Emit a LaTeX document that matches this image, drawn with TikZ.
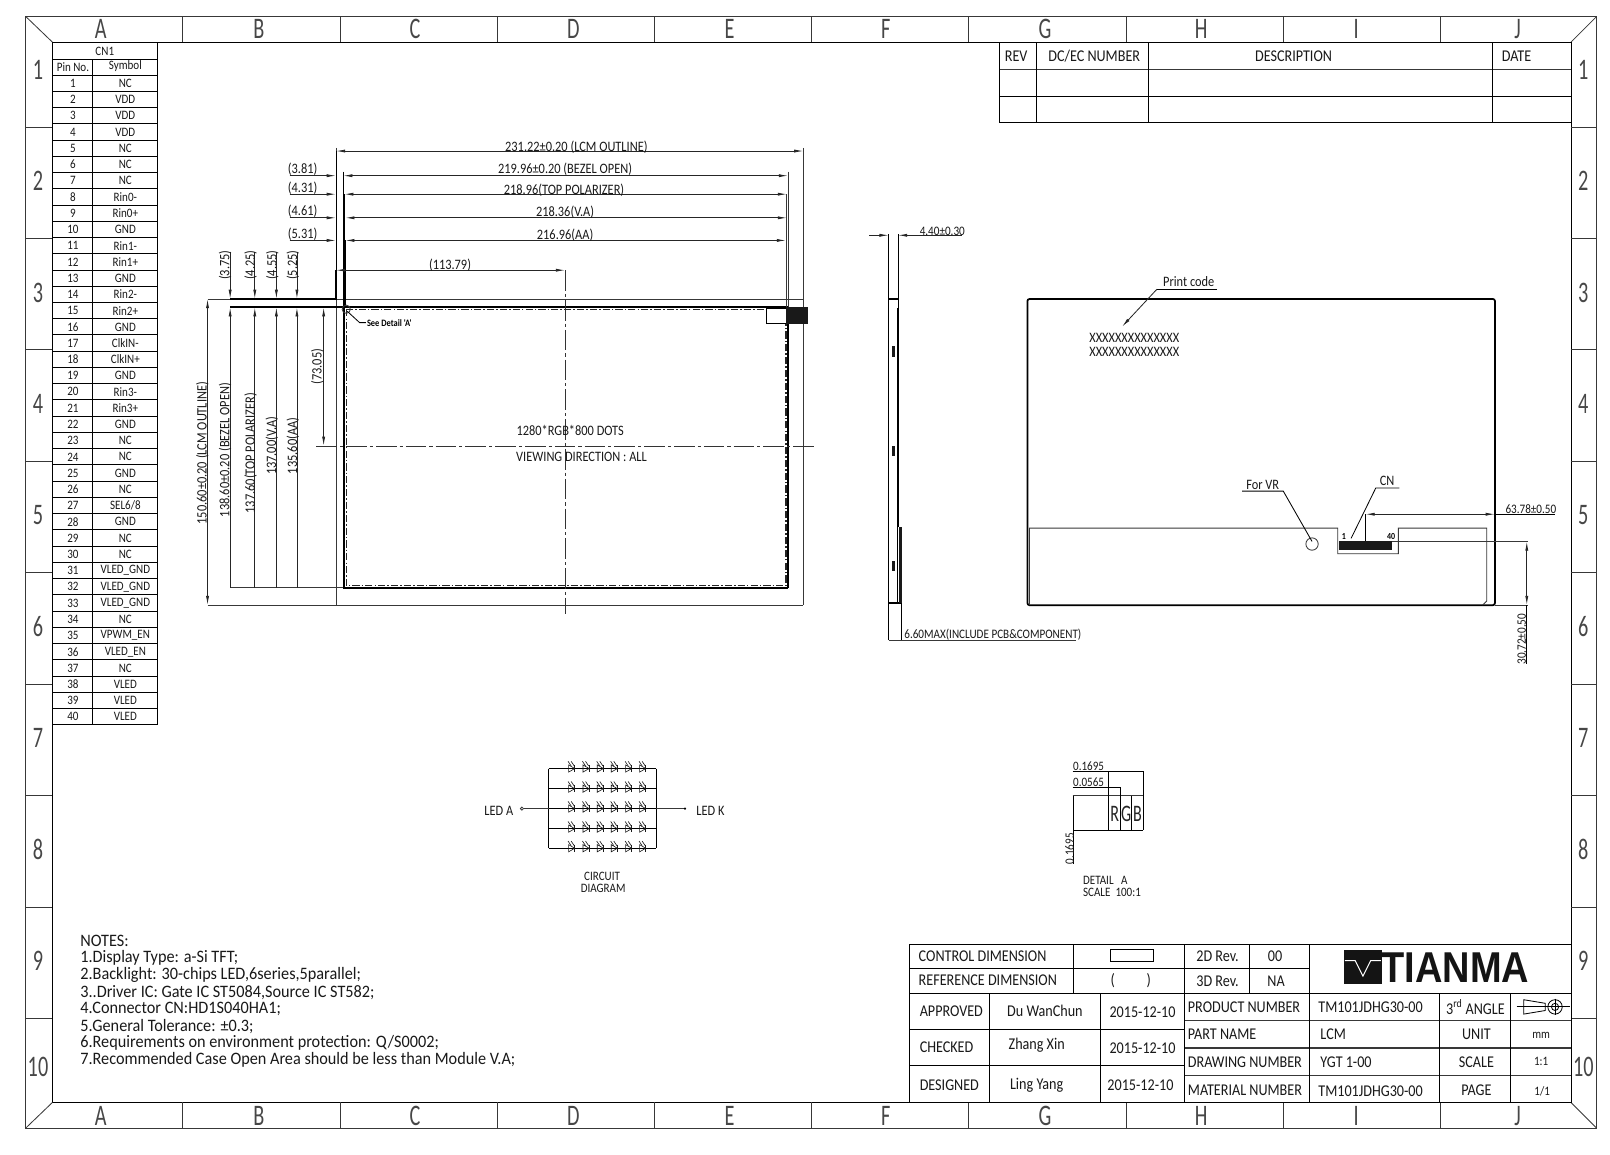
\documentclass[tikz,border=0pt]{standalone}
\usepackage{fontspec}
\newfontfamily\cadfont[FakeStretch=0.86]{Carlito}
\newfontfamily\cadwide[FakeStretch=0.93]{Carlito}
\newfontfamily\cadtall[FakeStretch=0.68]{Carlito}
\newfontfamily\logofont[FakeStretch=0.88]{Liberation Sans}
\usetikzlibrary{arrows.meta,calc}
\tikzset{
  thinline/.style={line width=.8pt,draw=black!78},
  darkline/.style={line width=.8pt,draw=black},
  thickline/.style={line width=1.7pt,draw=black},
  dimline/.style={line width=.8pt,draw=black!85,arrows={Latex[length=9pt,width=3pt]-Latex[length=9pt,width=3pt]}},
  endline/.style={line width=.8pt,draw=black!85,arrows={-Latex[length=9pt,width=3pt]}},
  centerline/.style={line width=.8pt,draw=black!80,dash pattern=on 20pt off 3pt on 3pt off 3pt},
  aaline/.style={line width=1pt,draw=black!85,dash pattern=on 7pt off 2pt on 1.5pt off 2pt},
  cadtext/.style={font=\cadfont\fontsize{14}{14}\selectfont,inner sep=0pt,text=black!90},
  numtext/.style={font=\cadfont\fontsize{12.6}{12.6}\selectfont,inner sep=0pt,text=black!90},
  pintext/.style={font=\cadfont\fontsize{12.5}{12.5}\selectfont,inner sep=0pt,text=black!90},
  titletext/.style={font=\cadfont\fontsize{16}{16}\selectfont,inner sep=0pt,text=black!90},
  notetext/.style={font=\cadwide\fontsize{17}{17}\selectfont,inner sep=0pt,anchor=west,text=black!90},
  gridtext/.style={font=\cadtall\fontsize{29}{29}\selectfont,inner sep=0pt,text=black!72},
  rgbtext/.style={font=\cadtall\fontsize{23}{23}\selectfont,inner sep=0pt,text=black!85},
  led/.pic={
    \draw[line width=.6pt,draw=black!90] (-3,-3.5) -- (-3,3.5) -- (3,0) -- cycle;
    \draw[line width=.6pt,draw=black!90] (3,-3.5) -- (3,3.5);
    \draw[line width=.6pt,draw=black!90] (-3.5,-7) -- (-.5,-2.5);
    \draw[line width=.6pt,draw=black!90] (-.5,-7) -- (2.5,-2.5);
  }
}
\begin{document}
\begin{tikzpicture}[x=1pt,y=-1pt]
    \useasboundingbox (0,0) rectangle (1567,1124);
    \fill[white] (0,0) rectangle (1567,1124);
    \draw[thinline,line width=1pt] (25,16) rectangle (1554,1098);
    \draw[darkline] (51,41) rectangle (1529,1073);
    \draw[thinline] (25,16) -- (51,41);
    \draw[thinline] (1554,16) -- (1529,41);
    \draw[thinline] (25,1098) -- (51,1073);
    \draw[thinline] (1554,1098) -- (1529,1073);
    \foreach \x in {178,331,484,637,790,943,1096,1249,1402} {
        \draw[thinline] (\x,16) -- (\x,41);
        \draw[thinline] (\x,1073) -- (\x,1098);
    }
    \foreach \y in {124,232,340,449,557,666,774,883,991} {
        \draw[thinline] (25,\y) -- (51,\y);
        \draw[thinline] (1529,\y) -- (1554,\y);
    }
    \foreach \x/\l in {98/A,252/B,404/C,558/D,710/E,862/F,1017/G,1169/H,1320/I,1477/J} {
        \node[gridtext] (top\l) at (\x,28.5) {\l};
        \node[gridtext] (bot\l) at (\x,1086) {\l};
    }
    \foreach \y/\l in {68/1,176/2,285/3,393/4,501/5,610/6,718/7,827/8,935/9,1038/10} {
        \node[gridtext] (left\l) at (37,\y) {\l};
        \node[gridtext] (right\l) at (1541,\y) {\l};
    }

    \draw[darkline] (51,41) rectangle (153,705.4);
    \draw[darkline] (51,57.5) -- (153,57.5);
    \draw[darkline] (90,57.5) -- (90,705.4);
    \node[pintext] (cnone) at (102,50) {CN1};
    \node[pintext] (pinno) at (71,65.5) {Pin No.};
    \node[pintext] (symbol) at (122,64.5) {Symbol};
    \foreach \s [count=\n] in {NC,VDD,VDD,VDD,NC,NC,NC,Rin0-,Rin0+,GND,Rin1-,Rin1+,GND,Rin2-,Rin2+,GND,ClkIN-,ClkIN+,GND,Rin3-,Rin3+,GND,NC,NC,GND,NC,SEL6/8,GND,NC,NC,VLED\_GND,VLED\_GND,VLED\_GND,NC,VPWM\_EN,VLED\_EN,NC,VLED,VLED,VLED} {
        \pgfmathsetmacro\rowy{73+(\n-1)*15.81}
        \draw[darkline] (51,\rowy) -- (153,\rowy);
        \node[pintext] (pin\n) at (71,\rowy+8) {\n};
        \node[pintext] (sym\n) at (122,\rowy+8) {\s};
    }

    \draw[darkline] (973,41) rectangle (1529,119);
    \draw[thinline] (973,68) -- (1529,68);
    \draw[darkline] (973,94) -- (1529,94);
    \foreach \x in {1009,1118,1453} {
        \draw[darkline] (\x,41) -- (\x,119);
    }
    \node[titletext] (rev) at (989,55) {REV};
    \node[titletext] (dcec) at (1065,55) {DC/EC NUMBER};
    \node[titletext] (descr) at (1259,55) {DESCRIPTION};
    \node[titletext] (date) at (1476,55) {DATE};

    \draw[thinline] (327,144) -- (327,589);
    \draw[thinline] (782,144) -- (782,589);
    \draw[thinline] (202,291) -- (782,291);
    \draw[thinline] (202,589) -- (782,589);
    \draw[thickline] (224,291) -- (327,291) -- (327,263);
    \draw[thickline] (224,299) -- (767,299);
    \draw[darkline] (327,263) -- (327,147);
    \draw[darkline] (334,167) -- (334,189);
    \draw[thickline] (334.5,189) -- (334.5,572) -- (767,572);
    \draw[line width=2pt] (335.5,234) -- (335.5,299);
    \draw[thickline] (767,299) -- (767,572);
    \draw[thinline] (767,167) -- (767,299);
    \draw[thinline] (765,189) -- (765,299);
    \draw[thinline] (224,572) -- (334,572);
    \draw[aaline] (337,301) rectangle (765,570);
    \draw[darkline,fill=white] (746,300) rectangle (765,315);
    \fill[black!90] (765,299) rectangle (786,315);
    \draw[thinline] (337,301) circle[radius=4];
    \draw[darkline] (338,303) -- (350,314) -- (356,314);
    \node[font=\cadfont\fontsize{9.5}{9.5}\selectfont\bfseries,inner sep=0pt,anchor=west] (seedetail) at (357,314) {See Detail 'A'};

    \draw[dimline] (327,147) -- (782,147);
    \draw[dimline] (334,171) -- (767,171);
    \draw[dimline] (335,189) -- (766,189);
    \draw[dimline] (336,212) -- (766,212);
    \draw[dimline] (336,234) -- (765,234);
    \draw[dimline] (327,263) -- (550,263);
    \foreach \y/\l in {171/3.81,189/4.31,212/4.61,234/5.31} {
        \draw[endline] (282,\y) -- (327,\y);
        \node[cadtext] (dim\y) at (294.5,\y-6) {(\l)};
    }
    \node[cadtext] (lcmw) at (561,143) {231.22±0.20 (LCM OUTLINE)};
    \node[cadtext] (bezelw) at (550,164.5) {219.96±0.20 (BEZEL OPEN)};
    \node[cadtext] (polw) at (549,185) {218.96(TOP POLARIZER)};
    \node[cadtext] (vaw) at (550,207) {218.36(V.A)};
    \node[cadtext] (aaw) at (550,228.5) {216.96(AA)};
    \node[cadtext] (halfw) at (438,258.5) {(113.79)};

    \foreach \x/\l/\tx in {224/3.75/219,248/4.25/244,269/4.55/265,289/5.25/285} {
        \draw[endline] (\x,245) -- (\x,291);
        \draw[endline] (\x,572) -- (\x,299);
        \node[cadtext,rotate=90] (dimv\x) at (\tx,258) {(\l)};
    }
    \draw[dimline] (202,291) -- (202,589);
    \draw[dimline] (315,299) -- (315,434);
    \node[cadtext,rotate=90] (lcmh) at (197,441) {150.60±0.20 (LCM OUTLINE)};
    \node[cadtext,rotate=90] (bezelh) at (219,438) {138.60±0.20 (BEZEL OPEN)};
    \node[cadtext,rotate=90] (polh) at (244,441) {137.60(TOP POLARIZER)};
    \node[cadtext,rotate=90] (vah) at (264.5,434) {137.00(V.A)};
    \node[cadtext,rotate=90] (aah) at (285,434) {135.60(AA)};
    \node[cadtext,rotate=90] (halfh) at (309,357) {(73.05)};

    \draw[centerline] (550,263) -- (550,598);
    \draw[centerline] (308,434) -- (793,434);
    \node[cadtext] (dots) at (555,419) {1280*RGB*800 DOTS};
    \node[cadtext] (viewdir) at (566,445) {VIEWING DIRECTION : ALL};

    \draw[darkline] (865,228) -- (865,623);
    \draw[darkline] (874,228) -- (874,513);
    \draw[darkline] (877,513) -- (877,623);
    \draw[thickline] (865,291) -- (875,291);
    \draw[thickline] (865,587) -- (878,587);
    \draw[line width=1.1pt] (873.5,300) -- (873.5,587);
    \fill[black!90] (874.5,513) rectangle (878,587);
    \foreach \y in {337,434,546} {
        \fill[black!90] (868,\y) rectangle (871.5,\y+10);
    }
    \draw[endline] (846,229) -- (865,229);
    \draw[endline] (936,229) -- (874,229);
    \draw[thinline] (865,623) -- (1047,623);
    \node[numtext,anchor=west] (thick) at (895,225) {4.40±0.30};
    \node[numtext,anchor=west] (maxthick) at (880,618) {6.60MAX(INCLUDE PCB\&COMPONENT)};

    \draw[thickline,rounded corners=2pt] (1000,291) rectangle (1455,589);
    \draw[thinline] (1002,589) -- (1002,514) -- (1302,514) -- (1302,539) -- (1361,539) -- (1361,514) -- (1447,514) -- (1447,585) -- (1443,589);
    \fill[black!90] (1303,526.5) rectangle (1355,535);
    \draw[thinline] (1277,529.5) circle[radius=6];
    \draw[darkline] (1209,478) -- (1249,478) -- (1277,527);
    \node[cadtext] (forvr) at (1229,472) {For VR};
    \draw[darkline] (1315,524) -- (1339,475) -- (1362,475);
    \node[cadtext] (cnlabel) at (1350,468) {CN};
    \node[font=\cadfont\fontsize{9}{9}\selectfont\bfseries,inner sep=0pt] (pinfirst) at (1308,522) {1};
    \node[font=\cadfont\fontsize{9}{9}\selectfont\bfseries,inner sep=0pt] (pinlast) at (1354,522) {40};
    \draw[darkline] (1329,500.5) -- (1329,527);
    \draw[dimline] (1329,500.5) -- (1455,500.5);
    \draw[darkline] (1455,500.5) -- (1513,500.5);
    \node[numtext] (cnx) at (1490,495.5) {63.78±0.50};
    \draw[thinline] (1355,527) -- (1487,527);
    \draw[thinline] (1455,589) -- (1487,589);
    \draw[dimline] (1486,527) -- (1486,589);
    \draw[darkline] (1486,589) -- (1486,646);
    \node[numtext,rotate=90] (cny) at (1481,622) {30.72±0.50};
    \draw[darkline] (1184.5,281.5) -- (1126,281.5);
    \draw[endline] (1126,281.5) -- (1092,318);
    \node[cadtext] (printcode) at (1157,274) {Print code};
    \node[cadtext] (codeone) at (1104,329) {XXXXXXXXXXXXXX};
    \node[cadtext] (codetwo) at (1104,342) {XXXXXXXXXXXXXX};

    \foreach \y in {748,767.6,787,806.5,825.6} {
        \draw[darkline] (534,\y) -- (638.7,\y);
        \foreach \x in {556.4,570.4,584.3,597.9,611.9,625.5} {
            \pic at (\x,\y) {led};
        }
    }
    \draw[darkline] (534,748) -- (534,825.6);
    \draw[darkline] (638.7,748) -- (638.7,825.6);
    \draw[thinline] (510,787) -- (534,787);
    \draw[thinline] (638.7,787) -- (666.7,787);
    \draw[thinline] (508,787) circle[radius=1.5];
    \fill (666.7,787) circle[radius=1.2];
    \node[cadtext] (leda) at (485.5,789) {LED A};
    \node[cadtext] (ledk) at (691.5,789) {LED K};
    \node[pintext] (circuit) at (586,853) {CIRCUIT};
    \node[pintext] (diagram) at (587,865) {DIAGRAM};

    \draw[darkline] (1044,750.5) -- (1112.6,750.5);
    \draw[darkline] (1044,766) -- (1090,766);
    \draw[thinline] (1044,774.4) -- (1112.6,774.4);
    \draw[darkline] (1044.6,807.8) -- (1112.6,807.8);
    \draw[darkline] (1044.6,774.4) -- (1044.6,841);
    \draw[darkline] (1079,750.5) -- (1079,807.8);
    \draw[darkline] (1090,766) -- (1090,807.8);
    \draw[darkline] (1101.4,774.4) -- (1101.4,807.8);
    \draw[darkline] (1112.6,750.5) -- (1112.6,807.8);
    \node[pintext] (pitchone) at (1059.5,745.5) {0.1695};
    \node[pintext] (pitchtwo) at (1059.5,761.5) {0.0565};
    \node[pintext,rotate=90] (pitchv) at (1041,826) {0.1695};
    \node[rgbtext] (subr) at (1085,792) {R};
    \node[rgbtext] (subg) at (1096,792) {G};
    \node[rgbtext] (subb) at (1107,792) {B};
    \node[pintext,anchor=west] (detail) at (1054,857) {DETAIL \ \ A};
    \node[pintext,anchor=west] (scaletxt) at (1054,869) {SCALE \ 100:1};

    \node[notetext] (notes) at (78,916) {NOTES:};
    \node[notetext] (noteone) at (78,932) {1.Display Type: a-Si TFT;};
    \node[notetext] (notetwo) at (78,949) {2.Backlight: 30-chips LED,6series,5parallel;};
    \node[notetext] (notethree) at (78,966) {3..Driver IC: Gate IC ST5084,Source IC ST582;};
    \node[notetext] (notefour) at (78,982) {4.Connector CN:HD1S040HA1;};
    \node[notetext] (notefive) at (78,999) {5.General Tolerance: ±0.3;};
    \node[notetext] (notesix) at (78,1015) {6.Requirements on environment protection: Q/S0002;};
    \node[notetext] (noteseven) at (78,1032) {7.Recommended Case Open Area should be less than Module V.A;};

    \draw[darkline] (885,919) rectangle (1529,1073);
    \draw[darkline] (885,943) -- (1274,943);
    \draw[darkline] (885,967) -- (1529,967);
    \draw[darkline] (885,1002) -- (1153,1002);
    \draw[darkline] (885,1037) -- (1153,1037);
    \foreach \y in {993,1020,1047} {
        \draw[thinline,line width=1.1pt] (1153,\y) -- (1529,\y);
    }
    \draw[darkline] (1045,919) -- (1045,967);
    \draw[darkline] (1216,919) -- (1216,967);
    \draw[darkline] (963,967) -- (963,1073);
    \draw[darkline] (1071,967) -- (1071,1073);
    \draw[darkline] (1153,919) -- (1153,1073);
    \draw[darkline] (1274,919) -- (1274,1073);
    \draw[darkline] (1401,967) -- (1401,1073);
    \draw[darkline] (1470,967) -- (1470,1073);
    \draw[darkline] (1081,924) rectangle (1123,936);
    \node[titletext,anchor=west] (ctrldim) at (894,931) {CONTROL DIMENSION};
    \node[titletext,anchor=west] (refdim) at (894,954) {REFERENCE DIMENSION};
    \node[titletext] (parenl) at (1083,954) {(};
    \node[titletext] (parenr) at (1118,954) {)};
    \node[titletext] (twod) at (1185,931) {2D Rev.};
    \node[titletext] (threed) at (1185,955) {3D Rev.};
    \node[titletext] (twodval) at (1241,931) {00};
    \node[titletext] (threedval) at (1242,955) {NA};
    \node[titletext,anchor=west] (approved) at (895,984) {APPROVED};
    \node[titletext,anchor=west] (checked) at (895,1019) {CHECKED};
    \node[titletext,anchor=west] (designed) at (895,1056) {DESIGNED};
    \node[titletext] (approver) at (1017,984) {Du WanChun};
    \node[titletext] (checker) at (1009,1017) {Zhang Xin};
    \node[titletext] (designer) at (1009,1056) {Ling Yang};
    \node[titletext] (dateone) at (1112,985) {2015-12-10};
    \node[titletext] (datetwo) at (1112,1020) {2015-12-10};
    \node[titletext] (datethree) at (1110,1056) {2015-12-10};
    \node[titletext,anchor=west] (prodnum) at (1156,980) {PRODUCT NUMBER};
    \node[titletext,anchor=west] (partname) at (1156,1007) {PART NAME};
    \node[titletext,anchor=west] (drawnum) at (1156,1034) {DRAWING NUMBER};
    \node[titletext,anchor=west] (matnum) at (1156,1061) {MATERIAL NUMBER};
    \node[titletext] (prodval) at (1334,980) {TM101JDHG30-00};
    \node[titletext,anchor=west] (partval) at (1285,1007) {LCM};
    \node[titletext,anchor=west] (drawval) at (1285,1034) {YGT 1-00};
    \node[titletext] (matval) at (1334,1062) {TM101JDHG30-00};
    \node[titletext] (angle) at (1436,980) {3\textsuperscript{rd} ANGLE};
    \node[titletext] (unit) at (1437,1007) {UNIT};
    \node[titletext] (scalekey) at (1437,1034) {SCALE};
    \node[titletext] (pagekey) at (1437,1061) {PAGE};
    \node[pintext] (unitval) at (1500,1008) {mm};
    \node[pintext] (scaleval) at (1500,1033) {1:1};
    \node[pintext] (pageval) at (1501,1062) {1/1};
    \draw[darkline] (1476,980) -- (1528,980);
    \draw[darkline] (1483,973) -- (1483,987) -- (1504,983.5) -- (1504,976.5) -- cycle;
    \draw[darkline] (1513.5,972) -- (1513.5,988);
    \draw[darkline] (1513.5,980) circle[radius=7];
    \draw[darkline] (1513.5,980) circle[radius=3.5];

    \fill[black!92] (1308,925) rectangle (1345,958);
    \draw[white,line width=1pt] (1309,935) -- (1319,935) -- (1326.5,950) -- (1334,935) -- (1344,935);
    \node[font=\logofont\fontsize{42}{42}\selectfont\bfseries,inner sep=0pt,text=black!92] (tianma) at (1416.5,942) {TIANMA};
\end{tikzpicture}
\end{document}
